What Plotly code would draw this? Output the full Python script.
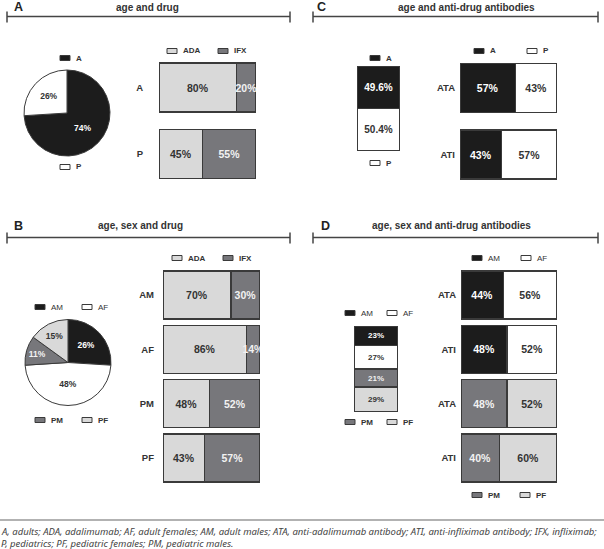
import plotly.graph_objects as go

W, H = 604, 549

# ---------------- data ----------------
pie_a_labels = ["A", "P"]
pie_a_values = [74, 26]
bar_a_rows = ["A", "P"]
bar_a_ada = [80, 45]
bar_a_ifx = [20, 55]

stack_c_labels = ["P", "A"]          # bottom to top
stack_c_values = [50.4, 49.6]
bar_c_rows = ["ATA", "ATI"]
bar_c_a = [57, 43]
bar_c_p = [43, 57]

pie_b_labels = ["AM", "AF", "PM", "PF"]
pie_b_values = [26, 48, 11, 15]
bar_b_rows = ["AM", "AF", "PM", "PF"]
bar_b_ada = [70, 86, 48, 43]
bar_b_ifx = [30, 14, 52, 57]

stack_d_labels = ["PF", "PM", "AF", "AM"]   # bottom to top
stack_d_values = [29, 21, 27, 23]
bar_d_rows = ["ATA", "ATI", "ATA", "ATI"]
bar_d_first_groups = ["AM", "AM", "PM", "PM"]
bar_d_first = [44, 48, 48, 40]
bar_d_second_groups = ["AF", "AF", "PF", "PF"]
bar_d_second = [56, 52, 52, 60]

titles = ["age and drug", "age and anti-drug antibodies",
          "age, sex and drug", "age, sex and anti-drug antibodies"]
footnote = ["A, adults; ADA, adalimumab; AF, adult females; AM, adult males; ATA, anti-adalimumab antibody; ATI, anti-infliximab antibody; IFX, infliximab;",
            "P, pediatrics; PF, pediatric females; PM, pediatric males."]

# ---------------- styles ----------------
BLACK, DARK, LIGHT, WHITE = "#1c1c1c", "#77777b", "#d9d9d9", "#ffffff"
COL = {"A": BLACK, "P": WHITE, "ADA": LIGHT, "IFX": DARK,
       "AM": BLACK, "AF": WHITE, "PM": DARK, "PF": LIGHT}
TXT = {BLACK: "#ffffff", DARK: "#f2f2f2", LIGHT: "#333333", WHITE: "#333333"}
OUT = "#3a3a3a"
FONT = "Liberation Sans"


def xd(x0, x1):
    return [x0 / W, x1 / W]


def yd(y0, y1):
    return [1 - y1 / H, 1 - y0 / H]


fig = go.Figure()
layout = dict(width=W, height=H, margin=dict(l=0, r=0, t=0, b=0),
              paper_bgcolor="white", plot_bgcolor="rgba(0,0,0,0)",
              barmode="stack", showlegend=False,
              font=dict(family=FONT, color="#333"))


def pct(v):
    return f"{v:g}%"


def hbar_panel(k, rows, series, box, width, standoff, fsize=10.5):
    x0, y0, x1, y1 = box
    n = len(rows)
    for vals, groups in series:
        cols = [COL[g] for g in groups]
        fig.add_trace(go.Bar(
            x=vals, y=list(range(n)), orientation="h", width=width,
            xaxis=f"x{k}", yaxis=f"y{k}",
            marker=dict(color=cols, line=dict(color=OUT, width=1.2)),
            text=[pct(v) for v in vals], textposition="inside",
            insidetextanchor="middle", constraintext="none", textangle=0,
            textfont=dict(size=fsize, color=[TXT[c] for c in cols], family=FONT, weight="bold"),
            hoverinfo="skip"))
    layout[f"xaxis{k}"] = dict(domain=xd(x0, x1), range=[0, 100], visible=False,
                               anchor=f"y{k}", fixedrange=True)
    layout[f"yaxis{k}"] = dict(domain=yd(y0, y1), range=[n - 0.5, -0.5],
                               tickvals=list(range(n)), ticktext=rows,
                               showgrid=False, zeroline=False, showline=False,
                               ticks="", ticklabelstandoff=standoff,
                               tickfont=dict(size=9.5, color="#333", family=FONT, weight="bold"),
                               anchor=f"x{k}", fixedrange=True)


def vstack_panel(k, labels, values, box, fsize):
    x0, y0, x1, y1 = box
    for lab, v in zip(labels, values):
        c = COL[lab]
        fig.add_trace(go.Bar(
            x=[0], y=[v], width=1, xaxis=f"x{k}", yaxis=f"y{k}",
            marker=dict(color=c, line=dict(color=OUT, width=1.2)),
            text=[pct(v)], textposition="inside", insidetextanchor="middle",
            constraintext="none", textangle=0,
            textfont=dict(size=fsize, color=TXT[c], family=FONT, weight="bold"),
            hoverinfo="skip"))
    layout[f"xaxis{k}"] = dict(domain=xd(x0, x1), range=[-0.5, 0.5], visible=False,
                               anchor=f"y{k}")
    layout[f"yaxis{k}"] = dict(domain=yd(y0, y1), range=[0, 100], visible=False,
                               anchor=f"x{k}")


def pie(labels, values, cx, cy, r):
    cols = [COL[l] for l in labels]
    fig.add_trace(go.Pie(
        labels=labels, values=values, sort=False, direction="clockwise", rotation=0,
        domain=dict(x=xd(cx - r, cx + r), y=yd(cy - r, cy + r)),
        marker=dict(colors=cols, line=dict(color=OUT, width=1)),
        text=[pct(v) for v in values], textinfo="text", textposition="inside",
        insidetextorientation="horizontal",
        textfont=dict(size=8.5, color=[TXT[c] for c in cols], family=FONT, weight="bold"),
        hoverinfo="skip", showlegend=False))


# Panel A
pie(pie_a_labels, pie_a_values, 67, 113, 43)
hbar_panel(1, bar_a_rows, [(bar_a_ada, ["ADA"] * 2), (bar_a_ifx, ["IFX"] * 2)],
           (159, 54.25, 256, 187.25), 0.737, 15)
# Panel C
vstack_panel(5, stack_c_labels, stack_c_values, (357, 66, 400, 151), 10)
hbar_panel(2, bar_c_rows, [(bar_c_a, ["A"] * 2), (bar_c_p, ["P"] * 2)],
           (460, 54.75, 557, 187.75), 0.737, 4)
# Panel B
pie(pie_b_labels, pie_b_values, 68, 362.5, 43)
hbar_panel(3, bar_b_rows, [(bar_b_ada, ["ADA"] * 4), (bar_b_ifx, ["IFX"] * 4)],
           (163, 267.8, 260, 485.2), 0.883, 8)
# Panel D
vstack_panel(6, stack_d_labels, stack_d_values, (354, 326, 398, 412), 8)
hbar_panel(4, bar_d_rows, [(bar_d_first, bar_d_first_groups), (bar_d_second, bar_d_second_groups)],
           (461, 267.8, 557, 485.2), 0.883, 4)

shapes, annos = [], []


def ann(x, y, text, size, xanchor="center", color="#333", bold=True, italic=False):
    t = text
    if bold:
        t = f"<b>{t}</b>"
    if italic:
        t = f"<i>{t}</i>"
    annos.append(dict(x=x / W, y=1 - y / H, xref="paper", yref="paper", text=t,
                      showarrow=False, xanchor=xanchor, yanchor="middle",
                      font=dict(size=size, color=color, family=FONT)))


def header(letter, lx, title, tx, ty, x0, x1, ly):
    ann(lx, ty, letter, 12.5, xanchor="left", color="#222")
    ann(tx, ty, title, 10, color="#333")
    shapes.append(dict(type="line", xref="paper", yref="paper", x0=x0 / W, x1=x1 / W,
                       y0=1 - ly / H, y1=1 - ly / H, line=dict(color="#444", width=1.5)))
    for xx in (x0, x1):
        shapes.append(dict(type="line", xref="paper", yref="paper", x0=xx / W, x1=xx / W,
                           y0=1 - (ly - 5) / H, y1=1 - (ly + 6) / H, line=dict(color="#444", width=1.5)))


def key(x, y, label, bold=True):
    shapes.append(dict(type="rect", xref="paper", yref="paper",
                       x0=x / W, x1=(x + 10) / W, y0=1 - (y - 2.5) / H, y1=1 - (y + 2.5) / H,
                       fillcolor=COL[label], line=dict(color=OUT, width=1)))
    ann(x + 14, y, label, 8, xanchor="left", color="#333", bold=bold)


header("A", 12, titles[0], 147, 7, 7, 290, 16.5)
header("C", 315, titles[1], 466, 7, 313, 598, 16.5)
header("B", 12, titles[2], 140, 226, 7, 290, 237.5)
header("D", 319, titles[3], 451, 226, 313, 598, 237.5)

# legends
key(60, 58, "A"); key(60, 167, "P")
key(167, 51, "ADA"); key(218, 51, "IFX")
key(370, 58, "A"); key(370, 163, "P")
key(474, 51, "A"); key(527, 51, "P")
key(35, 307, "AM", False); key(82, 307, "AF", False)
key(35, 420, "PM"); key(82, 420, "PF")
key(172, 258, "ADA"); key(223, 258, "IFX")
key(345, 313, "AM", False); key(387, 313, "AF", False)
key(345, 422, "PM"); key(387, 422, "PF")
key(472, 258, "AM", False); key(521, 258, "AF", False)
key(472, 495, "PM"); key(520, 495, "PF")

# footnote
shapes.append(dict(type="line", xref="paper", yref="paper", x0=0, x1=1,
                   y0=1 - 520 / H, y1=1 - 520 / H, line=dict(color="#999", width=1.5)))
for i, line in enumerate(footnote):
    annos.append(dict(x=-0.002, y=1 - (531 + 12.5 * i) / H, xref="paper", yref="paper",
                      text=f"<i>{line}</i>", showarrow=False, xanchor="left", yanchor="middle",
                      font=dict(size=9.5, color="#444", family="Noto Sans")))

layout["shapes"] = shapes
layout["annotations"] = annos
fig.update_layout(**layout)
fig.write_html("out.html", config={"displayModeBar": False},
               post_script="document.body.style.margin='0';")
